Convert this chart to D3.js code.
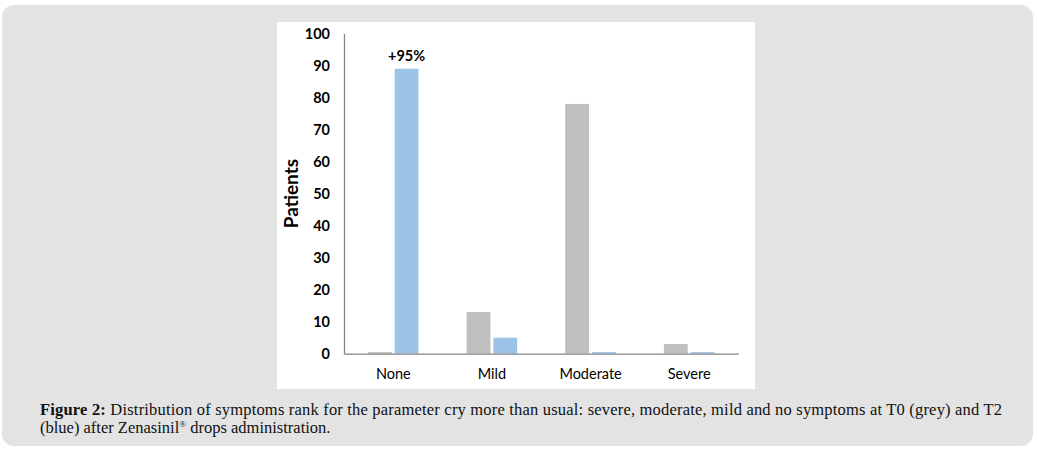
<!DOCTYPE html>
<html>
<head>
<meta charset="utf-8">
<script src="https://cdn.jsdelivr.net/npm/d3@7"></script>
<style>
  body { margin: 0; background: #fff; }
  svg { display: block; }
</style>
</head>
<body>
<div id="chart"></div>
<script>
// data
let categories = ["None", "Mild", "Moderate", "Severe"];
let seriesNames = ["T0", "T2"];
let t0_values = [0.5, 13, 78, 3];
let t2_values = [89, 5, 0.5, 0.5];
let y_ticks = [0, 10, 20, 30, 40, 50, 60, 70, 80, 90, 100];
let annotation = { category: "None", series: "T2", text: "+95%" };

function gen_bar_chart() {
    let width = 1038,
        height = 450;

    let svg = d3.select("#chart")
        .append("svg")
        .attr("width", width)
        .attr("height", height);

    // grey figure box
    svg.append("rect")
        .attr("x", 2).attr("y", 5)
        .attr("width", 1031).attr("height", 441)
        .attr("rx", 12).attr("ry", 12)
        .attr("fill", "#e3e3e3");

    // white chart panel
    svg.append("rect")
        .attr("x", 277).attr("y", 22)
        .attr("width", 478).attr("height", 367)
        .attr("fill", "#ffffff");

    let x0 = d3.scaleBand()
        .domain(categories)
        .range([344, 738.5]);

    let x1 = d3.scaleBand()
        .domain(seriesNames)
        .range([24, 74.5])
        .paddingInner(0.11);

    let y = d3.scaleLinear()
        .domain([0, 100])
        .range([353.7, 33.5]);

    let colors = { T0: "#bfbfbf", T2: "#9dc3e6" };

    let rows = categories.map(function(c, i) {
        return { category: c, values: [
            { series: "T0", value: t0_values[i] },
            { series: "T2", value: t2_values[i] }
        ]};
    });

    let g = svg.append("g");

    g.selectAll("g.cat")
        .data(rows)
        .enter().append("g")
        .attr("class", "cat")
        .attr("transform", d => "translate(" + x0(d.category) + ",0)")
        .selectAll("rect")
        .data(d => d.values)
        .enter().append("rect")
        .attr("x", d => x1(d.series))
        .attr("width", x1.bandwidth())
        .attr("y", d => y(d.value))
        .attr("height", d => y(0) - y(d.value))
        .attr("fill", d => colors[d.series]);

    // y axis
    let yAxis = d3.axisLeft(y)
        .tickValues(y_ticks)
        .tickSize(0)
        .tickPadding(14);

    let ya = svg.append("g")
        .attr("transform", "translate(344,0)")
        .call(yAxis);
    ya.select(".domain").attr("stroke", "#868686").attr("stroke-width", 1.3);
    ya.selectAll("text")
        .attr("font-family", "Lato, 'Open Sans', sans-serif")
        .attr("font-weight", "bold")
        .attr("font-size", "14.5px")
        .attr("fill", "#000");

    // x axis
    let xAxis = d3.axisBottom(x0).tickSize(0).tickPadding(15);
    let xa = svg.append("g")
        .attr("transform", "translate(0," + y(0) + ")")
        .call(xAxis);
    xa.select(".domain").attr("stroke", "#868686").attr("stroke-width", 1.3);
    xa.selectAll("text")
        .attr("font-family", "Lato, 'Open Sans', sans-serif")
        .attr("font-size", "14.5px")
        .attr("fill", "#000");

    // axis title
    svg.append("text")
        .attr("transform", "translate(298," + y(50) + ") rotate(-90)")
        .attr("text-anchor", "middle")
        .attr("font-family", "Lato, 'Open Sans', sans-serif")
        .attr("font-weight", "bold")
        .attr("font-size", "19px")
        .text("Patients");

    // annotation over bar
    let ai = categories.indexOf(annotation.category);
    let av = annotation.series === "T2" ? t2_values[ai] : t0_values[ai];
    svg.append("text")
        .attr("x", x0(annotation.category) + x1(annotation.series) + x1.bandwidth() / 2)
        .attr("y", y(av) - 8)
        .attr("text-anchor", "middle")
        .attr("font-family", "Lato, 'Open Sans', sans-serif")
        .attr("font-weight", "bold")
        .attr("font-size", "14.5px")
        .text(annotation.text);

    // caption
    let cap = svg.append("g")
        .attr("font-family", "'Liberation Serif', 'DejaVu Serif', serif")
        .attr("font-size", "16.5px")
        .attr("fill", "#111");

    let l1 = cap.append("text").attr("x", 40).attr("y", 415)
        .attr("textLength", 962).attr("lengthAdjust", "spacing");
    l1.append("tspan").attr("font-weight", "bold").text("Figure 2:");
    l1.append("tspan").text(" Distribution of symptoms rank for the parameter cry more than usual: severe, moderate, mild and no symptoms at T0 (grey) and T2");

    let l2 = cap.append("text").attr("x", 40).attr("y", 433);
    l2.append("tspan").text("(blue) after Zenasinil");
    l2.append("tspan").attr("font-size", "9px").attr("dy", "-6").text("®");
    l2.append("tspan").attr("dy", "6").text(" drops administration.");
}

gen_bar_chart();
</script>
</body>
</html>
